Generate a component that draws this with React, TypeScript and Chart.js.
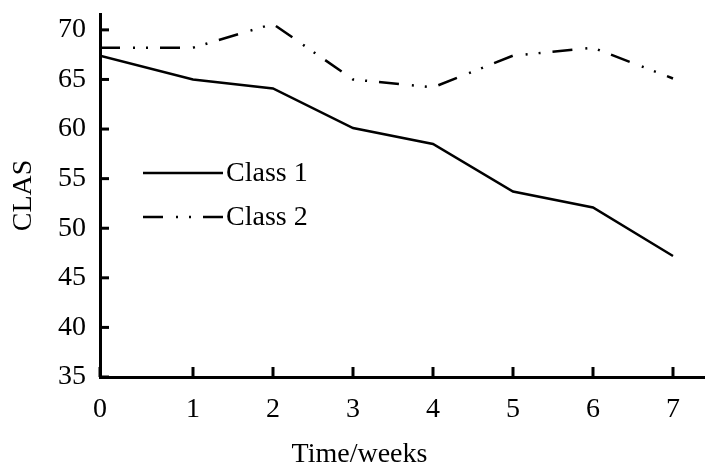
import { useEffect, useRef } from "react";
import { Chart, registerables, LinearScale } from "chart.js";

Chart.register(...registerables);

const weeks = [0, 1, 2, 3, 4, 5, 6, 7];
const class1 = [67.4, 65.0, 64.1, 60.1, 58.5, 53.7, 52.1, 47.2];
const class2 = [68.2, 68.2, 70.6, 65.0, 64.2, 67.4, 68.2, 65.1];
const seriesLabels = ["Class 1", "Class 2"];
const yTickValues = [35, 40, 45, 50, 55, 60, 65, 70];
const xTickValues = weeks;

const FONT = "'Times New Roman', 'Liberation Serif', serif";
const FS = 28;
// the first week interval on the original axis is drawn wider than the rest
const FIRST_GAP = 1.1625;

class FirstGapScale extends (LinearScale as any) {
  static id = "firstgap";
  static defaults = (LinearScale as any).defaults;
  warp(v: number) {
    return v <= 1 ? v * FIRST_GAP : v + (FIRST_GAP - 1);
  }
  unwarp(u: number) {
    return u <= FIRST_GAP ? u / FIRST_GAP : u - (FIRST_GAP - 1);
  }
  getPixelForValue(value: number) {
    const self: any = this;
    const a = this.warp(self.min);
    const b = this.warp(self.max);
    return self.left + ((this.warp(value) - a) / (b - a)) * self.width;
  }
  getValueForPixel(pixel: number) {
    const self: any = this;
    const a = this.warp(self.min);
    const b = this.warp(self.max);
    return this.unwarp(a + ((pixel - self.left) / self.width) * (b - a));
  }
}
Chart.register(FirstGapScale as any);

const innerTicks = {
  id: "innerTicks",
  afterDraw(chart: any) {
    const { ctx, chartArea, scales } = chart;
    ctx.save();
    ctx.strokeStyle = "#000";
    ctx.lineWidth = 3;
    scales.y.ticks.forEach((t: any) => {
      const y = scales.y.getPixelForValue(t.value);
      ctx.beginPath();
      ctx.moveTo(chartArea.left, y);
      ctx.lineTo(chartArea.left + 9, y);
      ctx.stroke();
    });
    scales.x.ticks.forEach((t: any) => {
      const x = scales.x.getPixelForValue(t.value);
      ctx.beginPath();
      ctx.moveTo(x, chartArea.bottom);
      ctx.lineTo(x, chartArea.bottom - 10);
      ctx.stroke();
    });
    ctx.restore();
  },
};

const innerLegend = {
  id: "innerLegend",
  afterDraw(chart: any) {
    const { ctx } = chart;
    ctx.save();
    chart.data.datasets.forEach((ds: any, i: number) => {
      const y = 173 + i * 44;
      ctx.strokeStyle = "#000";
      ctx.lineWidth = 2.5;
      ctx.setLineDash(ds.borderDash || []);
      ctx.beginPath();
      ctx.moveTo(143, y);
      ctx.lineTo(223, y);
      ctx.stroke();
      ctx.setLineDash([]);
      ctx.fillStyle = "#000";
      ctx.font = `${FS}px ${FONT}`;
      ctx.textBaseline = "middle";
      ctx.textAlign = "left";
      ctx.fillText(ds.label, 226, y + 1);
    });
    ctx.restore();
  },
};

export default function App() {
  const ref = useRef<HTMLCanvasElement | null>(null);
  useEffect(() => {
    document.body.style.margin = "0";
    const canvas = ref.current!;
    const chart = new Chart(canvas, {
      type: "line",
      data: {
        datasets: [
          {
            label: seriesLabels[0],
            data: weeks.map((w, i) => ({ x: w, y: class1[i] })),
            borderColor: "#000",
            borderWidth: 2.5,
            pointRadius: 0,
            tension: 0,
            fill: false,
          },
          {
            label: seriesLabels[1],
            data: weeks.map((w, i) => ({ x: w, y: class2[i] })),
            borderColor: "#000",
            borderWidth: 2.5,
            pointRadius: 0,
            tension: 0,
            borderDash: [20, 13, 2, 11, 2, 12],
            fill: false,
          },
        ],
      },
      options: {
        animation: false,
        responsive: false,
        layout: { padding: { top: 14, right: 0, left: 14, bottom: 0 } },
        plugins: {
          legend: { display: false },
          tooltip: { enabled: false },
          title: {
            display: true,
            text: "Time/weeks",
            position: "bottom",
            color: "#000",
            font: { family: FONT, size: FS, weight: "normal", lineHeight: 1 },
            padding: { top: 0, bottom: 0 },
          },
        },
        scales: {
          x: {
            type: "firstgap",
            min: 0,
            max: 7.4,
            afterBuildTicks: (s: any) => {
              s.ticks = xTickValues.map((v) => ({ value: v }));
            },
            afterFit: (s: any) => {
              s.height = 64;
              s.paddingLeft = 0;
              s.paddingRight = 0;
            },
            ticks: {
              color: "#000",
              font: { family: FONT, size: FS },
              padding: 16,
              maxRotation: 0,
              autoSkip: false,
            },
            grid: { drawOnChartArea: false, drawTicks: false },
            border: { display: true, color: "#000", width: 3 },
          },
          y: {
            type: "linear",
            min: 35,
            max: 71.6,
            afterBuildTicks: (s: any) => {
              s.ticks = yTickValues.map((v) => ({ value: v }));
            },
            afterFit: (s: any) => {
              s.width = 86;
              s.paddingTop = 0;
              s.paddingBottom = 0;
            },
            ticks: {
              color: "#000",
              font: { family: FONT, size: FS },
              padding: 14,
            },
            title: {
              display: true,
              text: "CLAS",
              color: "#000",
              font: { family: FONT, size: FS, lineHeight: 1 },
              padding: { top: -4, bottom: 0 },
            },
            grid: { drawOnChartArea: false, drawTicks: false },
            border: { display: true, color: "#000", width: 3 },
          },
        },
      },
      plugins: [innerTicks, innerLegend],
    } as any);
    return () => chart.destroy();
  }, []);
  return (
    <div style={{ width: 705, height: 469 }}>
      <canvas ref={ref} width={705} height={469} style={{ display: "block" }} />
    </div>
  );
}
